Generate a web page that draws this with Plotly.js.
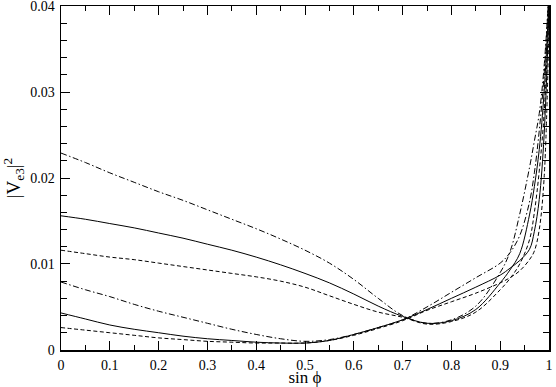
<!DOCTYPE html>
<html>
<head>
<meta charset="utf-8">
<script src="https://cdn.plot.ly/plotly-3.0.1.min.js"></script>
<style>html,body{margin:0;padding:0;background:#fff}#chart{width:556px;height:387px}</style>
</head>
<body>
<div id="chart"></div>
<script>
// common abscissa: sin(phi)
const sinPhi = [0,0.05,0.1,0.15,0.2,0.25,0.3,0.35,0.4,0.45,0.5,0.55,0.6,0.65,0.7,0.75,0.8,0.85,0.9,0.92,0.94,0.96,0.97,0.98,0.99,1.0];

// Upper family (large at sin phi = 0)
const upperDashDot = [0.0229,0.0218,0.0206,0.0195,0.0184,0.0174,0.0163,0.0152,0.0141,0.0129,0.0116,0.0101,0.0082,0.0060,0.0040,0.0031,0.0035,0.0051,0.0090,0.0114,0.0158,0.0212,0.0243,0.0275,0.0330,0.0420];
const upperSolid   = [0.0156,0.0152,0.0147,0.0142,0.0136,0.0130,0.0123,0.0116,0.0108,0.0099,0.0089,0.0078,0.0065,0.0051,0.0039,0.0031,0.0034,0.0047,0.0078,0.0093,0.0112,0.0157,0.0190,0.0233,0.0300,0.0410];
const upperDash    = [0.0116,0.0112,0.0108,0.0105,0.0101,0.0097,0.0093,0.0089,0.0085,0.0080,0.0073,0.0063,0.0053,0.0044,0.0038,0.0030,0.0033,0.0044,0.0070,0.0083,0.0100,0.0128,0.0160,0.0208,0.0275,0.0400];

// Lower family (small at sin phi = 0)
const lowerDashDot = [0.0079,0.0070,0.0062,0.0053,0.0045,0.0038,0.0031,0.0024,0.0018,0.0013,0.0010,0.0012,0.0018,0.0026,0.0035,0.0050,0.0067,0.0084,0.0101,0.0113,0.0133,0.0172,0.0206,0.0255,0.0320,0.0420];
const lowerSolid   = [0.0043,0.0036,0.0029,0.0024,0.0020,0.0016,0.0013,0.0011,0.0009,0.0008,0.0008,0.0011,0.0018,0.0026,0.0035,0.0047,0.0060,0.0073,0.0087,0.0095,0.0104,0.0117,0.0138,0.0175,0.0250,0.0400];
const lowerDash    = [0.0026,0.0023,0.0020,0.0017,0.0014,0.0012,0.0010,0.0009,0.0008,0.0008,0.0008,0.0011,0.0017,0.0025,0.0034,0.0046,0.0056,0.0066,0.0078,0.0084,0.0092,0.0105,0.0115,0.0140,0.0200,0.0380];

const xTickVals = [0,0.1,0.2,0.3,0.4,0.5,0.6,0.7,0.8,0.9,1];
const xTickText = ['0','0.1','0.2','0.3','0.4','0.5','0.6','0.7','0.8','0.9','1'];
const yTickVals = [0,0.01,0.02,0.03,0.04];
const yTickText = ['0','0.01','0.02','0.03','0.04'];

const DASH = '4px,2.5px';
const DASHDOT = '6px,2.5px,1.5px,2.5px';

function tr(y, dash) {
  return {x: sinPhi, y: y, type: 'scatter', mode: 'lines',
    line: {color: '#000', width: 1, dash: dash, shape: 'spline', smoothing: 1},
    hoverinfo: 'skip', showlegend: false};
}

const data = [
  tr(upperDashDot, DASHDOT),
  tr(upperSolid, 'solid'),
  tr(upperDash, DASH),
  tr(lowerDashDot, DASHDOT),
  tr(lowerSolid, 'solid'),
  tr(lowerDash, DASH)
];

const FAM = 'Liberation Serif';
function fnt(size) { return {family: FAM, size: size, color: '#000'}; }

const layout = {
  width: 556, height: 387,
  margin: {l: 61, r: 7, t: 6, b: 37},
  paper_bgcolor: '#fff', plot_bgcolor: '#fff',
  font: fnt(14),
  showlegend: false,
  xaxis: {
    range: [0, 1], tickmode: 'array', tickvals: xTickVals, ticktext: xTickText,
    ticks: 'inside', ticklen: 9, tickwidth: 1, tickcolor: '#000',
    minor: {dtick: 0.05, ticks: 'inside', ticklen: 5, tickwidth: 1, tickcolor: '#000', showgrid: false},
    showline: true, linecolor: '#000', linewidth: 1.5, mirror: 'allticks',
    showgrid: false, zeroline: false, ticklabeloverflow: 'allow', ticklabelstandoff: 2,
    tickfont: fnt(14),
    title: {text: 'sin ϕ', font: fnt(17), standoff: 2}
  },
  yaxis: {
    range: [-0.00001, 0.04001], tickmode: 'array', tickvals: yTickVals, ticktext: yTickText,
    ticks: 'inside', ticklen: 9, tickwidth: 1, tickcolor: '#000',
    minor: {dtick: 0.002, ticks: 'inside', ticklen: 6, tickwidth: 1, tickcolor: '#000', showgrid: false},
    showline: true, linecolor: '#000', linewidth: 1.5, mirror: 'allticks',
    showgrid: false, zeroline: false, ticklabeloverflow: 'allow', ticklabelstandoff: 2,
    tickfont: fnt(14),
    title: {text: '|V<sub>e3</sub>|<sup>2</sup>', font: fnt(19), standoff: 8}
  }
};

Plotly.newPlot('chart', data, layout, {displayModeBar: false, staticPlot: true});
</script>
</body>
</html>
